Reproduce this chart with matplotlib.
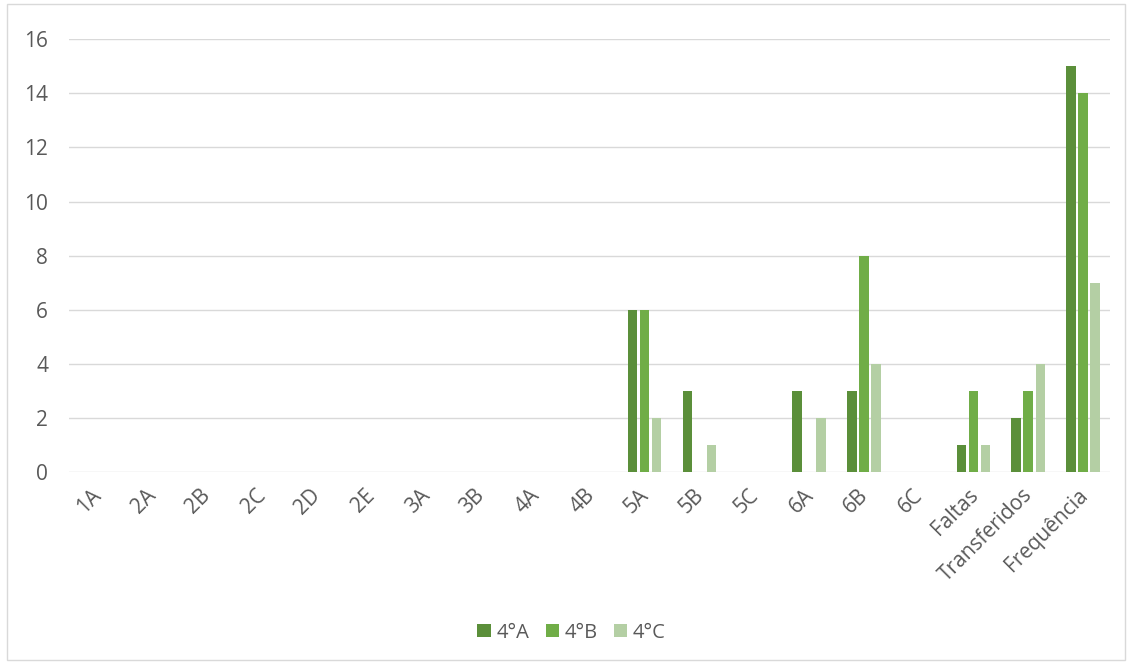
import numpy as np
import matplotlib.pyplot as plt
from matplotlib.patches import Rectangle
from matplotlib.transforms import ScaledTranslation

# --- Datos ---
categorias = ["1A", "2A", "2B", "2C", "2D", "2E", "3A", "3B", "4A", "4B",
              "5A", "5B", "5C", "6A", "6B", "6C", "Faltas", "Transferidos", "Frequência"]
serie_4a = [0, 0, 0, 0, 0, 0, 0, 0, 0, 0, 6, 3, 0, 3, 3, 0, 1, 2, 15]
serie_4b = [0, 0, 0, 0, 0, 0, 0, 0, 0, 0, 6, 0, 0, 0, 8, 0, 3, 3, 14]
serie_4c = [0, 0, 0, 0, 0, 0, 0, 0, 0, 0, 2, 1, 0, 2, 4, 0, 1, 4, 7]
nombres = ["4°A", "4°B", "4°C"]
colores = ["#5B8F3A", "#70AD47", "#B4CFA4"]

plt.rcParams["font.family"] = ["Open Sans", "DejaVu Sans"]
gris = "#595959"

fig = plt.figure(figsize=(11.32, 6.64), dpi=100)
ax = fig.add_axes([0.061, 0.289, 0.92, 0.652])

x = np.arange(len(categorias))
ancho = 0.175
paso = 0.22
for i, (vals, nombre, color) in enumerate(zip([serie_4a, serie_4b, serie_4c], nombres, colores)):
    ax.bar(x + (i - 1) * paso, vals, width=ancho, color=color, label=nombre, zorder=3)

ax.set_xlim(-0.5, len(categorias) - 0.5)
ax.set_ylim(0, 16)
ax.set_yticks(range(0, 17, 2))
ax.grid(axis="y", color="#D9D9D9", linewidth=1, zorder=0)
for s in ax.spines.values():
    s.set_visible(False)
ax.tick_params(axis="both", length=0, labelsize=15, labelcolor=gris)
ax.tick_params(axis="y", pad=15)
ax.set_xticks(x)
ax.set_xticklabels(categorias, rotation=45, ha="right", rotation_mode="anchor")
ax.tick_params(axis="x", pad=9)
# pequeño desplazamiento a la izquierda de las etiquetas giradas
desplazamiento = ScaledTranslation(-6 / 100, 0, fig.dpi_scale_trans)
for lbl in ax.get_xticklabels():
    lbl.set_transform(lbl.get_transform() + desplazamiento)

fig.legend(loc="center", bbox_to_anchor=(0.505, 0.047), ncol=3, frameon=False,
           fontsize=14.5, labelcolor=gris, handlelength=0.65, handleheight=0.65,
           handletextpad=0.3, columnspacing=0.8)

fig.patches.append(Rectangle((0.006, 0.006), 0.988, 0.988, transform=fig.transFigure,
                             fill=False, edgecolor="#D9D9D9", linewidth=1))

fig.savefig("out.png", dpi=100)
